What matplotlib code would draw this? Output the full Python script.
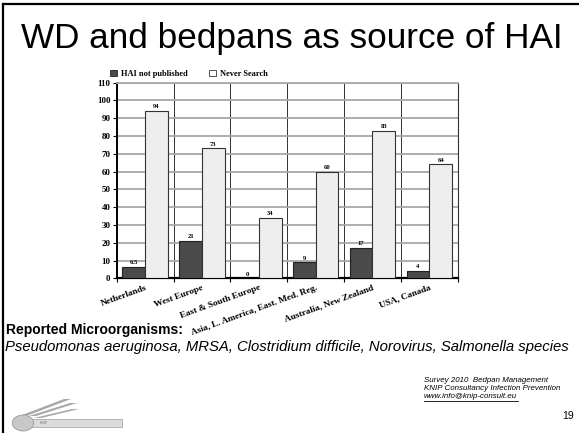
import matplotlib
matplotlib.use("Agg")
import matplotlib.pyplot as plt
import numpy as np
from matplotlib.lines import Line2D
from matplotlib.patches import Rectangle, Circle, Polygon

categories = ["Netherlands", "West Europe", "East & South Europe",
              "Asia, L. America, East. Med. Reg.", "Australia, New Zealand", "USA, Canada"]
hai_not_published = [6.5, 21, 0, 9, 17, 4]
never_search = [94, 73, 34, 60, 83, 64]
hai_labels = ["6.5", "21", "0", "9", "17", "4"]
never_labels = ["94", "73", "34", "60", "83", "64"]
yticks = list(range(0, 111, 10))

W, H = 579, 433
fig = plt.figure(figsize=(W / 100, H / 100), dpi=100)
fig.patch.set_facecolor("white")

def fx(px):
    return px / W

def fy(py):
    return 1 - py / H

# slide border
fig.add_artist(Line2D([fx(3), fx(3)], [fy(4), fy(433)], color="black", lw=1.6, transform=fig.transFigure))
fig.add_artist(Line2D([fx(3), fx(579)], [fy(4), fy(4)], color="black", lw=1.6, transform=fig.transFigure))

# title
fig.text(fx(292), fy(38.5), "WD and bedpans as source of HAI", ha="center", va="center",
         fontsize=25.3, family="Liberation Sans", color="black")

serif = "Liberation Serif"
ax = fig.add_axes([fx(116.7), fy(278.3), fx(457.7) - fx(116.7), fy(82.7) - fy(278.3)])
x = np.arange(len(categories))
w = 0.4
dark = "#4a4a4a"
light = "#eeeeee"
ax.bar(x - w / 2, hai_not_published, w, color=dark, edgecolor="#222222", linewidth=0.8, zorder=3,
       label="HAI not published")
ax.bar(x + w / 2, never_search, w, color=light, edgecolor="#333333", linewidth=0.8, zorder=3,
       label="Never Search")
for xi, v, t in zip(x - w / 2, hai_not_published, hai_labels):
    ax.text(xi, v + 1.0, t, ha="center", va="bottom", fontsize=4.8, family=serif, weight="bold")
for xi, v, t in zip(x + w / 2, never_search, never_labels):
    ax.text(xi, v + 1.0, t, ha="center", va="bottom", fontsize=4.8, family=serif, weight="bold")

ax.set_xlim(-0.5, len(categories) - 0.5)
ax.set_ylim(0, 110)
ax.set_yticks(yticks)
ax.set_yticklabels([str(v) for v in yticks], family=serif, weight="bold", fontsize=6.5)
ax.yaxis.grid(True, color="#a8a8a8", lw=1.3, zorder=0)
ax.set_xticks(np.arange(len(categories) + 1) - 0.5)
ax.set_xticklabels([])
ax.xaxis.grid(True, color="#303030", lw=0.7, zorder=0)
ax.tick_params(axis="x", length=3, width=0.8, color="black")
ax.tick_params(axis="y", length=3, width=0.8, color="black", pad=1.5)
for i, c in enumerate(categories):
    ax.annotate(c, xy=(i, 0), xycoords=("data", "axes fraction"), xytext=(0, -4),
                textcoords="offset points", ha="right", va="top", rotation=20,
                rotation_mode="anchor", fontsize=6.7, family=serif, weight="bold")
ax.spines["left"].set_linewidth(1.4)
ax.spines["bottom"].set_linewidth(1.6)
ax.spines["top"].set_color("#a8a8a8")
ax.spines["top"].set_linewidth(1.3)
ax.spines["right"].set_color("#303030")
ax.spines["right"].set_linewidth(0.8)
ax.set_axisbelow(True)

fig.legend(handles=[Rectangle((0, 0), 1, 1, fc=dark, ec="#222222", lw=0.6),
                    Rectangle((0, 0), 1, 1, fc="white", ec="#333333", lw=0.6)],
           labels=["HAI not published", "Never Search"], loc="center left",
           bbox_to_anchor=(fx(110), fy(74)), ncol=2, frameon=False,
           prop={"family": serif, "weight": "bold", "size": 6},
           handlelength=0.8, handleheight=0.8, handletextpad=0.5, columnspacing=2.6,
           borderaxespad=0, borderpad=0)

# bottom text
fig.text(fx(6), fy(330), "Reported Microorganisms:", ha="left", va="center", fontsize=10,
         family="Liberation Sans", weight="bold")
fig.text(fx(5), fy(347), "Pseudomonas aeruginosa, MRSA, Clostridium difficile, Norovirus, Salmonella species",
         ha="left", va="center", fontsize=10.7, family="Liberation Sans", style="italic")

fs_small = 5.7
fig.text(fx(424), fy(380), "Survey 2010  Bedpan Management", ha="left", va="center", fontsize=fs_small,
         family="Liberation Sans", style="italic")
fig.text(fx(424), fy(388.5), "KNIP Consultancy Infection Prevention", ha="left", va="center", fontsize=fs_small,
         family="Liberation Sans", style="italic")
fig.text(fx(424), fy(397), "www.info@knip-consult.eu", ha="left", va="center", fontsize=fs_small,
         family="Liberation Sans", style="italic")
fig.add_artist(Line2D([fx(424), fx(518)], [fy(401), fy(401)], color="black", lw=0.6, transform=fig.transFigure))
fig.text(fx(574), fy(416), "19", ha="right", va="center", fontsize=7.5, family="Liberation Sans")

# logo (approximate)
for (x0, y0, x1, y1) in [(22, 415, 64, 399), (29, 416, 70, 403), (34, 418, 72, 409)]:
    fig.add_artist(Polygon([(fx(x0), fy(y0)), (fx(x0 + 7), fy(y0)), (fx(x1 + 7), fy(y1)),
                            (fx(x1), fy(y1))], closed=True, fc="#a8a8a8", ec="none",
                           transform=fig.transFigure))
fig.add_artist(Rectangle((fx(15), fy(427)), fx(122) - fx(15), fy(419) - fy(427), fc="#dcdcdc",
                         ec="#aaaaaa", lw=0.6, transform=fig.transFigure))
fig.add_artist(Circle((fx(23), fy(423)), 0.0185, fc="#c8c8c8", ec="#999999", lw=0.6,
                      transform=fig.transFigure))
fig.text(fx(40), fy(423), "KNIP", ha="left", va="center", fontsize=2.5, color="#777777",
         family="Liberation Sans")

fig.savefig("out.png", dpi=100)
